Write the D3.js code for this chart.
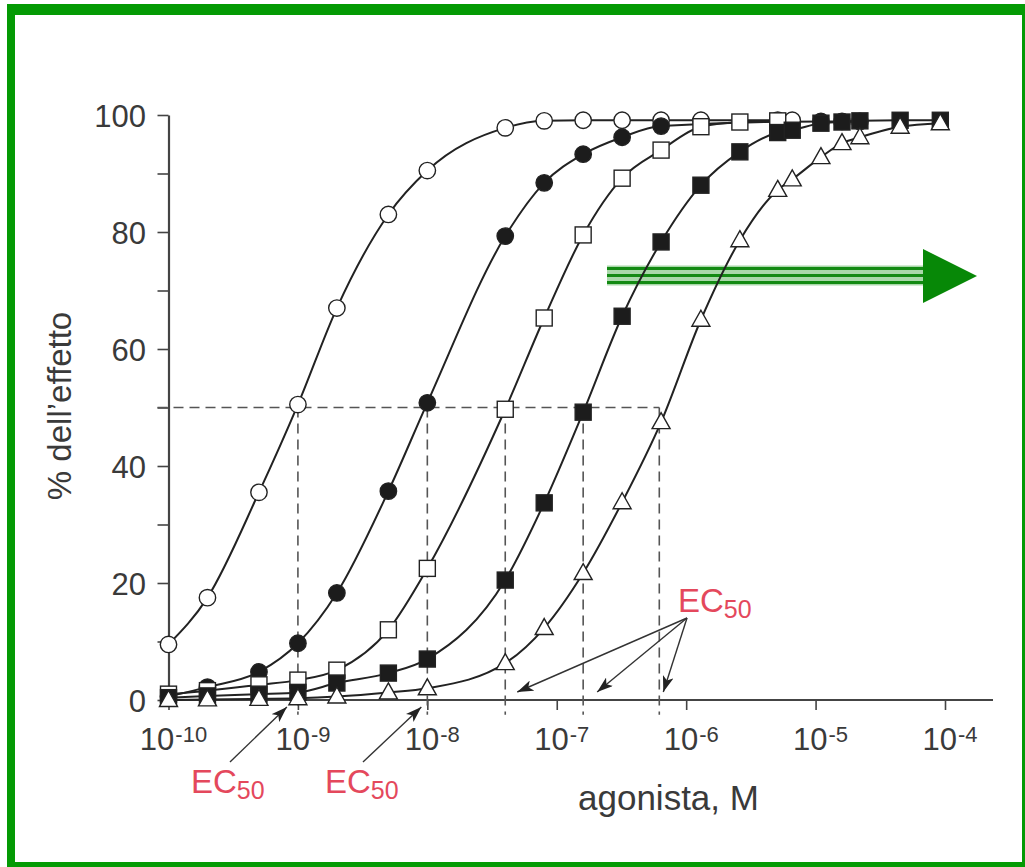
<!DOCTYPE html>
<html>
<head>
<meta charset="utf-8">
<script src="https://cdn.jsdelivr.net/npm/d3@7"></script>
<style>
  html, body { margin: 0; padding: 0; background: #fff; }
  svg { display: block; font-family: "Liberation Sans", Arial, Helvetica, sans-serif; }
</style>
</head>
<body>
<svg id="chart" width="1025" height="867"></svg>
<script>
// dose (M) and % effect, one pair of arrays per curve
const doseOpenCircle = [1e-10, 2e-10, 5e-10, 1e-9, 2e-9, 5e-9, 1e-8, 4e-8, 8e-8, 1.6e-7, 3.2e-7, 6.4e-7, 1.3e-6, 5.1e-6, 6.6e-6];
const respOpenCircle = [9.5, 17.5, 35.5, 50.5, 67, 83, 90.5, 97.8, 99, 99.1, 99.1, 99.1, 99.1, 99.1, 99.1];

const doseFilledCircle = [1e-10, 2e-10, 5e-10, 1e-9, 2e-9, 5e-9, 1e-8, 4e-8, 8e-8, 1.6e-7, 3.2e-7, 6.4e-7, 1.1e-5, 1.6e-5, 2.2e-5];
const respFilledCircle = [0.6, 2.2, 4.8, 9.7, 18.3, 35.7, 50.8, 79.3, 88.4, 93.3, 96.2, 98.1, 98.9, 98.9, 98.9];

const doseOpenSquare = [1e-10, 2e-10, 5e-10, 1e-9, 2e-9, 5e-9, 1e-8, 4e-8, 8e-8, 1.6e-7, 3.2e-7, 6.4e-7, 1.3e-6, 2.6e-6, 5.1e-6];
const respOpenSquare = [1, 1.6, 2.6, 3.4, 5.1, 12, 22.5, 49.7, 65.3, 79.5, 89.2, 94, 98, 98.8, 99];

const doseFilledSquare = [1e-10, 2e-10, 5e-10, 1e-9, 2e-9, 5e-9, 1e-8, 4e-8, 8e-8, 1.6e-7, 3.2e-7, 6.4e-7, 1.3e-6, 2.6e-6, 5.1e-6, 6.6e-6, 1.1e-5, 1.6e-5, 2.2e-5, 4.5e-5, 9.2e-5];
const respFilledSquare = [0.4, 0.7, 1, 1.3, 2.9, 4.6, 7, 20.5, 33.7, 49.2, 65.6, 78.3, 88, 93.7, 97, 97.4, 98.6, 98.8, 99, 99.1, 99.1];

const doseTriangle = [1e-10, 2e-10, 5e-10, 1e-9, 2e-9, 5e-9, 1e-8, 4e-8, 8e-8, 1.6e-7, 3.2e-7, 6.4e-7, 1.3e-6, 2.6e-6, 5.1e-6, 6.6e-6, 1.1e-5, 1.6e-5, 2.2e-5, 4.5e-5, 9.2e-5];
const respTriangle = [0, 0.1, 0.2, 0.3, 0.6, 1.3, 2, 6.3, 12.3, 21.7, 33.8, 47.5, 65, 78.6, 87.2, 89, 92.8, 95.2, 96.2, 98, 98.6];

const ec50 = [1e-9, 1e-8, 4e-8, 1.6e-7, 6.2e-7];
const xTickValues = [1e-10, 1e-9, 1e-8, 1e-7, 1e-6, 1e-5, 1e-4];
const xTickExponents = ["-10", "-9", "-8", "-7", "-6", "-5", "-4"];
const yTickValues = [0, 20, 40, 60, 80, 100];
const yMinorTicks = [0, 10, 20, 30, 40, 50, 60, 70, 80, 90, 100];

const svg = d3.select("#chart");
const ink = "#222";
const red = "#e4485c";

// green frame
svg.append("rect").attr("x", 7).attr("y", 4).attr("width", 1018).attr("height", 863).attr("fill", "#049a04");
svg.append("rect").attr("x", 15).attr("y", 15).attr("width", 1007).attr("height", 847).attr("fill", "#fff");

const x = d3.scaleLog().domain([1e-10, 1e-4]).range([168.5, 945]);
const y = d3.scaleLinear().domain([0, 100]).range([700, 115]);

// axes
const xAxis = svg.append("g").attr("transform", `translate(0,${y(0)})`)
  .call(d3.axisBottom(x).tickValues(xTickValues).tickFormat("").tickSize(10).tickSizeOuter(0));
xAxis.select(".domain").remove();
xAxis.selectAll(".tick line").attr("stroke", "#444").attr("stroke-width", 1.6);
svg.append("line").attr("x1", x(1e-10)).attr("x2", x(1e-4) + 48)
  .attr("y1", y(0)).attr("y2", y(0)).attr("stroke", "#444").attr("stroke-width", 2.2);

const xLab = svg.append("g").attr("fill", "#3a3a3a");
xTickValues.forEach((v, i) => {
  const t = xLab.append("text").attr("x", x(v) + 5).attr("y", 750)
    .attr("text-anchor", "middle").attr("font-size", 31);
  t.append("tspan").text("10");
  t.append("tspan").attr("dx", 1).attr("dy", -8).attr("font-size", 22).text(xTickExponents[i]);
});

const yAxis = svg.append("g").attr("transform", `translate(${x(1e-10)},0)`)
  .call(d3.axisLeft(y).tickValues(yMinorTicks).tickFormat("").tickSize(11).tickSizeOuter(0));
yAxis.select(".domain").attr("stroke", "#444").attr("stroke-width", 2.2);
yAxis.selectAll(".tick line").attr("stroke", "#444").attr("stroke-width", 1.6);
svg.append("g").attr("fill", "#3a3a3a").selectAll("text").data(yTickValues).join("text")
  .attr("x", 146).attr("y", d => y(d) + 12)
  .attr("text-anchor", "end").attr("font-size", 31).text(d => d);

svg.append("text").attr("transform", "translate(71,406) rotate(-90)")
  .attr("text-anchor", "middle").attr("font-size", 33).attr("fill", "#3a3a3a")
  .text("% dell\u2019effetto");
svg.append("text").attr("x", 578).attr("y", 810).attr("font-size", 35).attr("fill", "#3a3a3a")
  .text("agonista, M");

// EC50 dashed guides
const guides = svg.append("g").attr("stroke", "#555").attr("stroke-width", 1.6)
  .attr("stroke-dasharray", "10,6").attr("fill", "none");
guides.append("line").attr("x1", x(1e-10) - 11).attr("x2", x(d3.max(ec50)))
  .attr("y1", y(50)).attr("y2", y(50));
guides.selectAll(".v").data(ec50).join("line")
  .attr("x1", d => x(d)).attr("x2", d => x(d))
  .attr("y1", y(50)).attr("y2", y(-2.5));

// green shift arrow
const ga = svg.append("g");
ga.append("rect").attr("x", 607).attr("y", 265.5).attr("width", 318).attr("height", 20).attr("fill", "#a9d8a9");
[268.5, 275.5, 282.5].forEach(yy => {
  ga.append("line").attr("x1", 607).attr("x2", 925).attr("y1", yy).attr("y2", yy)
    .attr("stroke", "#138a13").attr("stroke-width", 3.2);
});
ga.append("path").attr("d", "M923,249 L977,276 L923,303 Z").attr("fill", "#078807");

// curves
const series = [
  { dose: doseOpenCircle, resp: respOpenCircle, shape: "circle", fill: "#fff" },
  { dose: doseFilledCircle, resp: respFilledCircle, shape: "circle", fill: "#1c1c1c" },
  { dose: doseOpenSquare, resp: respOpenSquare, shape: "square", fill: "#fff" },
  { dose: doseFilledSquare, resp: respFilledSquare, shape: "square", fill: "#1c1c1c" },
  { dose: doseTriangle, resp: respTriangle, shape: "triangle", fill: "#fff" }
];

const line = d3.line().x(d => x(d[0])).y(d => y(d[1])).curve(d3.curveMonotoneX);
series.forEach(s => {
  s.points = s.dose.map((d, i) => [d, s.resp[i]]);
  svg.append("path").datum(s.points).attr("d", line)
    .attr("fill", "none").attr("stroke", ink).attr("stroke-width", 2);
});

series.forEach(s => {
  const g = svg.append("g").attr("fill", s.fill).attr("stroke", ink).attr("stroke-width", 1.4);
  s.points.forEach(p => {
    const cx = x(p[0]), cy = y(p[1]);
    if (s.shape === "circle") {
      g.append("circle").attr("cx", cx).attr("cy", cy).attr("r", 8.2);
    } else if (s.shape === "square") {
      g.append("rect").attr("x", cx - 8).attr("y", cy - 8).attr("width", 16).attr("height", 16);
    } else {
      g.append("path").attr("d", `M${cx},${cy - 9.5} L${cx + 9},${cy + 6.5} L${cx - 9},${cy + 6.5} Z`);
    }
  });
});

// EC50 labels and arrows
const defs = svg.append("defs");
defs.append("marker").attr("id", "head").attr("markerUnits", "userSpaceOnUse")
  .attr("viewBox", "0 0 16 11").attr("refX", 16).attr("refY", 5.5)
  .attr("markerWidth", 16).attr("markerHeight", 11).attr("orient", "auto")
  .append("path").attr("d", "M0,0 L16,5.5 L0,11 L4,5.5 Z").attr("fill", "#222");

function ecLabel(px, py) {
  const t = svg.append("text").attr("x", px).attr("y", py).attr("fill", red).attr("font-size", 33);
  t.append("tspan").text("EC");
  t.append("tspan").attr("dy", 6).attr("font-size", 25).text("50");
}
ecLabel(191, 793);
ecLabel(325, 793);
ecLabel(678, 612);

const arrows = svg.append("g").attr("stroke", "#333").attr("stroke-width", 1.4);
const leftArrows = [[230, ec50[0], -11], [363, ec50[1], -6]];
leftArrows.forEach(([sx, d, off]) => {
  arrows.append("line").attr("x1", sx).attr("y1", 762)
    .attr("x2", x(d) + off).attr("y2", y(0) + 7).attr("marker-end", "url(#head)");
});
const rightTargets = [[ec50[2], 12], [ec50[3], 14], [ec50[4], 4]];
rightTargets.forEach(([d, off]) => {
  arrows.append("line").attr("x1", 687).attr("y1", 618)
    .attr("x2", x(d) + off).attr("y2", y(0) - 8).attr("marker-end", "url(#head)");
});
</script>
</body>
</html>
